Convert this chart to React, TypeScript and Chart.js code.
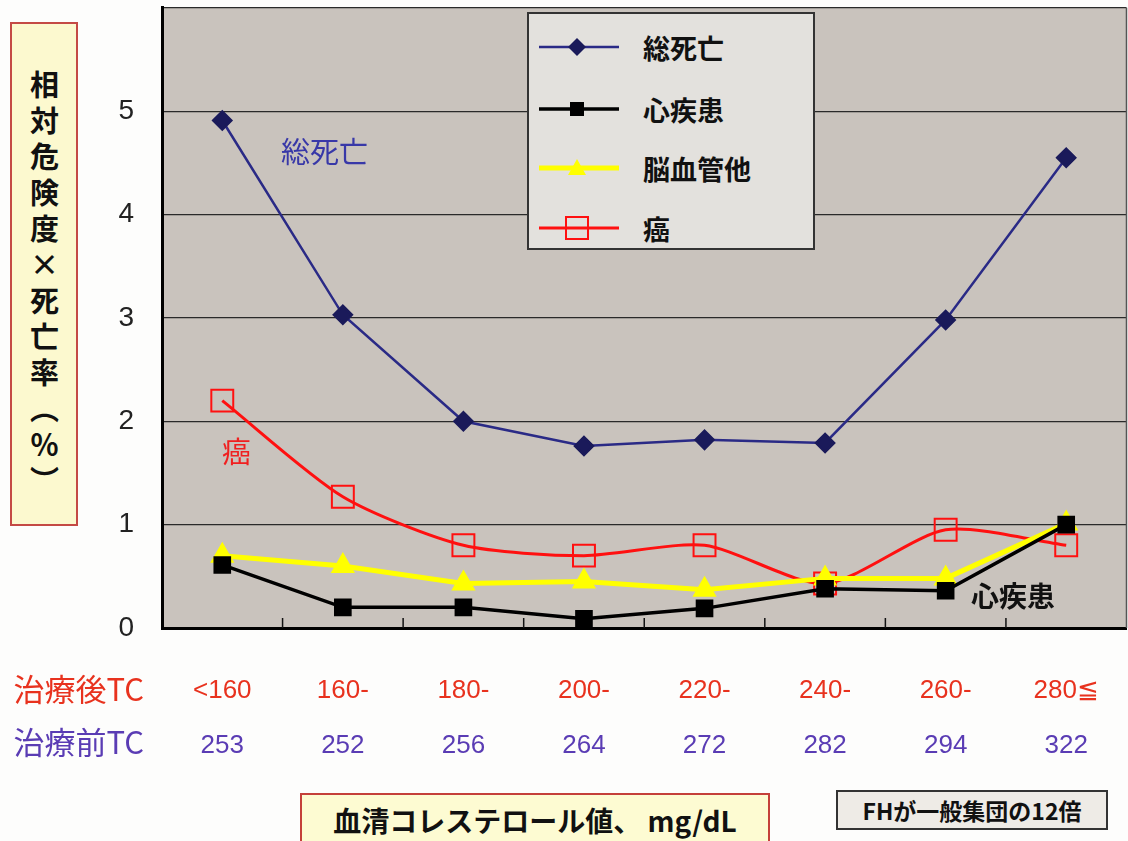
import React, { useEffect, useRef } from 'react';
import { Chart, registerables } from 'chart.js';
Chart.register(...registerables);

const afterTC = ['<160', '160-', '180-', '200-', '220-', '240-', '260-', '280≦'];
const beforeTC = ['253', '252', '256', '264', '272', '282', '294', '322'];
const seriesNames = ['総死亡', '心疾患', '脳血管他', '癌'];
const totalDeath = [4.91, 3.03, 2.0, 1.76, 1.82, 1.79, 2.98, 4.55];
const heartDisease = [0.61, 0.2, 0.2, 0.09, 0.19, 0.38, 0.36, 1.0];
const cerebro = [0.7, 0.6, 0.43, 0.45, 0.37, 0.48, 0.48, 1.01];
const cancer = [2.2, 1.27, 0.8, 0.7, 0.8, 0.43, 0.95, 0.8];
const yMin = 0;
const yMax = 6;
const yStep = 1;

const NAVY = '#2a2a86';
const NAVY_PT = '#1a1a5a';
const BLACK = '#000000';
const YELLOW = '#ffff00';
const RED = '#ff1010';

const JP = '"Noto Sans CJK JP", "Noto Sans", sans-serif';
const LAT = '"Liberation Sans", Arial, sans-serif';

const CANVAS_SHIFT = 37;
const CANVAS_EXTRA_W = 19;

const plotBg = {
  id: 'plotBg',
  beforeDraw(chart: any) {
    const { ctx, chartArea } = chart;
    ctx.save();
    ctx.fillStyle = '#c9c3bd';
    ctx.fillRect(chartArea.left, chartArea.top, chartArea.right - chartArea.left, chartArea.bottom - chartArea.top);
    ctx.restore();
  },
};

const innerTicks = {
  id: 'innerTicks',
  afterDraw(chart: any) {
    const { ctx, chartArea } = chart;
    const xs = chart.scales.x;
    ctx.save();
    ctx.strokeStyle = '#111';
    ctx.lineWidth = 1.5;
    for (let i = 1; i < afterTC.length; i++) {
      const px = (xs.getPixelForValue(i - 1) + xs.getPixelForValue(i)) / 2;
      ctx.beginPath();
      ctx.moveTo(px, chartArea.bottom);
      ctx.lineTo(px, chartArea.bottom - 10);
      ctx.stroke();
    }
    ctx.strokeStyle = '#555';
    ctx.lineWidth = 1.5;
    ctx.beginPath();
    ctx.moveTo(chartArea.right, chartArea.top);
    ctx.lineTo(chartArea.right, chartArea.bottom);
    ctx.stroke();
    ctx.restore();
  },
};

function LegendSymbol({ kind }: { kind: number }) {
  const w = 80, h = 30, cy = 15, cx = 38;
  const colors = [NAVY, BLACK, YELLOW, RED];
  let marker: any = null;
  if (kind === 0) marker = <polygon points={`${cx},${cy - 9} ${cx + 9},${cy} ${cx},${cy + 9} ${cx - 9},${cy}`} fill={NAVY_PT} />;
  if (kind === 1) marker = <rect x={cx - 7} y={cy - 7} width={14} height={14} fill="#000" />;
  if (kind === 2) marker = <polygon points={`${cx},${cy - 9} ${cx + 9},${cy + 7} ${cx - 9},${cy + 7}`} fill={YELLOW} />;
  if (kind === 3) marker = <rect x={cx - 11} y={cy - 11} width={22} height={22} fill="none" stroke={RED} strokeWidth={2} />;
  const lw = [2.5, 3.5, 5, 3][kind];
  return (
    <svg width={w} height={h} style={{ display: 'block' }}>
      <line x1={0} y1={cy} x2={w} y2={cy} stroke={colors[kind]} strokeWidth={lw} />
      {marker}
    </svg>
  );
}

export default function App() {
  const canvasRef = useRef<HTMLCanvasElement | null>(null);

  useEffect(() => {
    const canvas = canvasRef.current;
    if (!canvas) return;
    const chart = new Chart(canvas, {
      type: 'line',
      data: {
        labels: afterTC,
        datasets: [
          {
            label: seriesNames[0],
            data: totalDeath,
            borderColor: NAVY,
            borderWidth: 2.5,
            pointStyle: 'rectRot',
            pointRadius: 9,
            pointBackgroundColor: NAVY_PT,
            pointBorderColor: NAVY_PT,
            tension: 0,
            xAxisID: 'x',
          },
          {
            label: seriesNames[1],
            data: heartDisease,
            borderColor: BLACK,
            borderWidth: 3.5,
            pointStyle: 'rect',
            pointRadius: 10,
            pointBackgroundColor: BLACK,
            pointBorderColor: BLACK,
            tension: 0,
            xAxisID: 'x',
          },
          {
            label: seriesNames[2],
            data: cerebro,
            borderColor: YELLOW,
            borderWidth: 5,
            pointStyle: 'triangle',
            pointRadius: 9,
            pointBackgroundColor: YELLOW,
            pointBorderColor: YELLOW,
            tension: 0,
            xAxisID: 'x',
          },
          {
            label: seriesNames[3],
            data: cancer,
            borderColor: RED,
            borderWidth: 3,
            pointStyle: 'rect',
            pointRadius: 15.5,
            pointBackgroundColor: 'rgba(0,0,0,0)',
            pointBorderColor: RED,
            pointBorderWidth: 2,
            tension: 0.25,
            xAxisID: 'x',
          },
        ],
      },
      options: {
        animation: false,
        responsive: false,
        maintainAspectRatio: false,
        layout: { padding: { top: 5, right: 3, left: 0, bottom: 0 } },
        plugins: {
          legend: { display: false },
          tooltip: { enabled: false },
        },
        scales: {
          y: {
            min: yMin,
            max: yMax,
            ticks: {
              stepSize: yStep,
              padding: 28,
              color: '#222',
              font: { family: LAT, size: 28 },
              callback: (v: any) => (Number(v) === yMax ? '' : String(v)),
            },
            grid: { color: '#2a2a2a', lineWidth: 1.3, drawTicks: false },
            border: { display: true, color: '#000', width: 3 },
            afterFit: (s: any) => {
              s.width = 162;
            },
          },
          x: {
            type: 'category',
            offset: true,
            position: 'bottom',
            ticks: {
              padding: 47,
              color: '#e8321e',
              font: { family: LAT, size: 26 },
              maxRotation: 0,
              autoSkip: false,
            },
            grid: { display: false, drawTicks: false },
            border: { display: true, color: '#000', width: 3 },
            afterFit: (s: any) => {
              s.height = 80;
            },
          },
          x2: {
            type: 'category',
            labels: beforeTC,
            offset: true,
            position: 'bottom',
            ticks: {
              padding: 22,
              color: '#5a3cb4',
              font: { family: LAT, size: 26 },
              maxRotation: 0,
              autoSkip: false,
            },
            grid: { display: false, drawTicks: false },
            border: { display: false },
            afterFit: (s: any) => {
              s.height = 60;
            },
          },
        },
      },
      plugins: [plotBg, innerTicks],
    } as any);
    return () => chart.destroy();
  }, []);

  const legendRows = [45, 107, 166, 226];

  return (
    <div style={{ position: 'absolute', left: 0, top: 0, width: 1128, height: 841, overflow: 'hidden', background: '#fdfdfc' }}>
      <canvas
        ref={canvasRef}
        width={1128 + CANVAS_EXTRA_W}
        height={768 + CANVAS_SHIFT}
        style={{ position: 'absolute', left: 0, top: -CANVAS_SHIFT, display: 'block' }}
      />

      {/* y-axis title box */}
      <div
        style={{
          position: 'absolute', left: 10, top: 22, width: 68, height: 504,
          background: '#fcf9cf', border: '2px solid #c44a45', boxSizing: 'border-box',
          display: 'flex', alignItems: 'flex-start', justifyContent: 'center', paddingTop: 46,
        }}
      >
        <div style={{ writingMode: 'vertical-rl', fontFamily: JP, fontWeight: 700, fontSize: 29, letterSpacing: 7, color: '#111', lineHeight: 1 }}>
          相対危険度×死亡率（％）
        </div>
      </div>

      {/* legend */}
      <div
        style={{
          position: 'absolute', left: 527, top: 12, width: 288, height: 238,
          background: '#e3e1dd', border: '2px solid #333', boxSizing: 'border-box',
        }}
      >
        {seriesNames.map((n, i) => (
          <div key={n} style={{ position: 'absolute', left: 10, top: legendRows[i] - 12 - 15, height: 30, display: 'flex', alignItems: 'center' }}>
            <LegendSymbol kind={i} />
            <span style={{ marginLeft: 24, fontFamily: JP, fontWeight: 700, fontSize: 27, color: '#111', lineHeight: 1 }}>{n}</span>
          </div>
        ))}
      </div>

      {/* in-plot annotations */}
      <div style={{ position: 'absolute', left: 281, top: 136, fontFamily: JP, fontSize: 29, color: '#3838a8', lineHeight: 1 }}>総死亡</div>
      <div style={{ position: 'absolute', left: 222, top: 436, fontFamily: JP, fontSize: 29, color: '#f02020', lineHeight: 1 }}>癌</div>
      <div style={{ position: 'absolute', left: 971, top: 581, fontFamily: JP, fontWeight: 700, fontSize: 28, color: '#111', lineHeight: 1 }}>心疾患</div>

      {/* row labels */}
      <div style={{ position: 'absolute', right: 1128 - 144, top: 669, fontFamily: JP, fontSize: 31, color: '#e8321e', whiteSpace: 'nowrap', lineHeight: 1.2 }}>治療後TC</div>
      <div style={{ position: 'absolute', right: 1128 - 144, top: 722, fontFamily: JP, fontSize: 31, color: '#5a3cb4', whiteSpace: 'nowrap', lineHeight: 1.2 }}>治療前TC</div>

      {/* x-axis title box */}
      <div
        style={{
          position: 'absolute', left: 300, top: 793, width: 470, height: 60,
          background: '#fdfbd2', border: '2px solid #c4403a', boxSizing: 'border-box',
          fontFamily: JP, fontWeight: 700, fontSize: 28, color: '#111',
          paddingTop: 5, textAlign: 'center', whiteSpace: 'nowrap',
        }}
      >
        血清コレステロール値、 mg/dL
      </div>

      {/* note box */}
      <div
        style={{
          position: 'absolute', left: 836, top: 790, width: 272, height: 40,
          background: '#eeebe6', border: '2px solid #333', boxSizing: 'border-box',
          fontFamily: JP, fontWeight: 700, fontSize: 23, color: '#111',
          display: 'flex', alignItems: 'center', justifyContent: 'center', whiteSpace: 'nowrap',
        }}
      >
        FHが一般集団の12倍
      </div>
    </div>
  );
}
